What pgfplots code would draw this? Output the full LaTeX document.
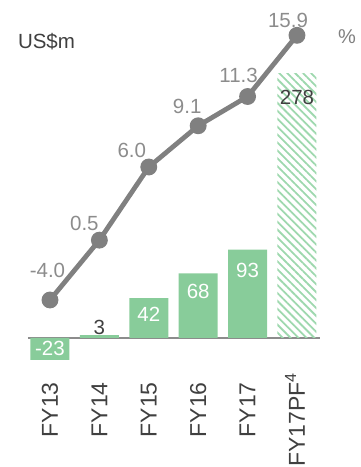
\documentclass[border=0pt]{standalone}
\usepackage{fontspec}
\setmainfont{Liberation Sans}
\usepackage{pgfplots}
\pgfplotsset{compat=1.18}
\usetikzlibrary{patterns.meta}
\definecolor{barg}{HTML}{88CC9A}
\definecolor{hatchg}{HTML}{9ED8AE}
\definecolor{lineg}{HTML}{808080}
\definecolor{labg}{HTML}{8C8C8C}
\definecolor{darkt}{HTML}{404040}
\begin{document}
\begin{tikzpicture}
\useasboundingbox (0,0) rectangle (180pt,233.5pt);
% bars
\begin{axis}[
  at={(14pt,50.25pt)}, anchor=south west,
  x=24.7pt, y=0.475pt,
  xmin=-0.445, xmax=5.466, ymin=-30, ymax=290,
  axis line style={draw=none},
  ytick=\empty,
  xtick={0,1,2,3,4,5},
  xticklabels={FY13,FY14,FY15,FY16,FY17,FY17PF\rlap{\smash{\textsuperscript{4}}}},
  xticklabel style={yshift=-7.75pt, rotate=90, anchor=east, inner sep=0pt, text=darkt, font=\fontsize{11.5}{13}\selectfont},
  major tick length=0pt,
  extra y ticks={0}, extra y tick labels={},
  extra y tick style={grid=major, major grid style={draw=labg, line width=1pt}},
  clip=false,
  /pgf/number format/assume math mode=true,
]
\addplot[ybar, bar width=19.5pt, bar shift=0pt, fill=barg, draw=none,
  nodes near coords,
  visualization depends on={\thisrow{dy} \as \dy},
  visualization depends on={\thisrow{tc} \as \tc},
  every node near coord/.append style={anchor=center, yshift=\dy pt, text=black!\tc!white, font=\fontsize{10.25}{12}\selectfont},
] table {
x y dy tc
0 -23 5.5 0
1 3 3.75 75
2 42 -8 0
3 68 -9 0
4 93 -10.5 0
};
\addplot[ybar, bar width=19.5pt, bar shift=0pt, draw=none,
  pattern={Lines[angle=-45, distance=2.8pt, line width=0.9pt]}, pattern color=hatchg,
  nodes near coords,
  every node near coord/.append style={anchor=center, yshift=-12pt, text=darkt, font=\fontsize{10.25}{12}\selectfont},
] table {
x y
5 278
};
\end{axis}
% line
\begin{axis}[
  at={(14pt,50.25pt)}, anchor=south west,
  x=24.7pt, y=6.65pt,
  xmin=-0.445, xmax=5.466, ymin=-9, ymax=18,
  axis lines=none, clip=false,
  /pgf/number format/assume math mode=true,
]
\addplot[lineg, line width=2.4pt, mark=*, mark size=3pt, mark options={fill=lineg, draw=lineg},
  nodes near coords={\pgfmathprintnumber[fixed,fixed zerofill,precision=1]{\pgfplotspointmeta}},
  visualization depends on={\thisrow{dx} \as \dx},
  visualization depends on={\thisrow{dy} \as \dy},
  every node near coord/.append style={anchor=center, xshift=\dx pt, yshift=\dy pt, text=labg, font=\fontsize{10.25}{12}\selectfont},
] table {
x y dx dy
0 -4.0 -1.25 15
1 0.5 -7.5 8.5
2 6.0 -8.5 8.5
3 9.1 -5.5 9.5
4 11.3 -4.5 10.5
5 15.9 -4.5 7.5
};
\end{axis}
\node[text=darkt, font=\fontsize{10.25}{12}\selectfont] at (23.25pt,212.5pt) {US\$m};
\node[text=lineg, font=\fontsize{10}{12}\selectfont] at (173.5pt,215pt) {\%};
\end{tikzpicture}
\end{document}
